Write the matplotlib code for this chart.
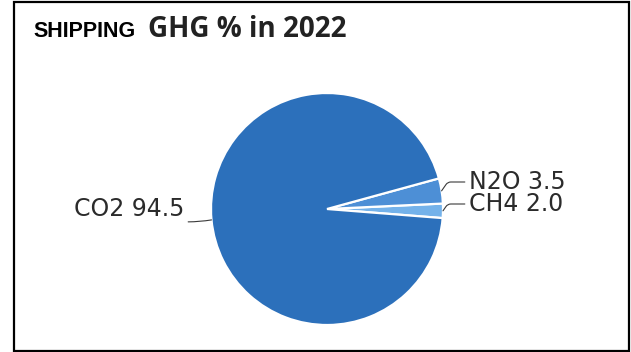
import numpy as np
import matplotlib
matplotlib.use('Agg')
import matplotlib.pyplot as plt
from matplotlib.patches import Rectangle

# pie data, counterclockwise from the start angle
gases = ['CH4', 'N2O', 'CO2']
shares = [2.0, 3.5, 94.5]
colors = ['#74b2ea', '#4d8fd6', '#2c70bb']

W, H = 631, 352
fig = plt.figure(figsize=(W / 100, H / 100), dpi=100)
ax = fig.add_axes([0, 0, 1, 1])

# pie centre and radius in pixels (y measured upwards)
cx, cy, r = 327, H - 209, 116
start = -4.5
wedges, _ = ax.pie(shares, colors=colors, startangle=start, counterclock=True,
                   center=(cx, cy), radius=r, frame=True,
                   wedgeprops=dict(edgecolor='white', linewidth=1.6))
ax.set_xlim(0, W)
ax.set_ylim(0, H)
ax.set_aspect('equal')
ax.axis('off')

# label positions (text anchors, pixels from top)
label_pos = {'N2O': (469, 182), 'CH4': (469, 204), 'CO2': (184, 209)}
label_ha = {'N2O': 'left', 'CH4': 'left', 'CO2': 'right'}
label_conn = {'N2O': 'angle,angleA=0,angleB=55,rad=3',
              'CH4': 'angle,angleA=0,angleB=55,rad=3',
              'CO2': 'arc3,rad=0.15'}

for w, g, v in zip(wedges, gases, shares):
    mid = np.deg2rad((w.theta1 + w.theta2) / 2)
    px, py = cx + r * np.cos(mid), cy + r * np.sin(mid)
    tx, ty = label_pos[g]
    ax.annotate('%s %.1f' % (g, v), xy=(px, py), xytext=(tx, H - ty),
                ha=label_ha[g], va='center', fontsize=17, color='#2b2b2b',
                family='DejaVu Sans',
                arrowprops=dict(arrowstyle='-', color='#3a3a3a', lw=0.8,
                                shrinkA=1, shrinkB=0,
                                connectionstyle=label_conn[g]))

# title
fig.text(33 / W, 1 - 37 / H, 'SHIPPING', fontsize=15.5, fontweight='bold',
         family='Liberation Sans', color='black', va='baseline')
fig.text(148 / W, 1 - 37 / H, 'GHG % in 2022', fontsize=20, fontweight='bold',
         family='Open Sans', color='#222222', va='baseline')

# frame around the whole chart
ax.add_patch(Rectangle((13.5, 1.5), 615, 348.5, fill=False, edgecolor='black',
                       linewidth=1.6, clip_on=False))

fig.savefig('out.png', dpi=100)
